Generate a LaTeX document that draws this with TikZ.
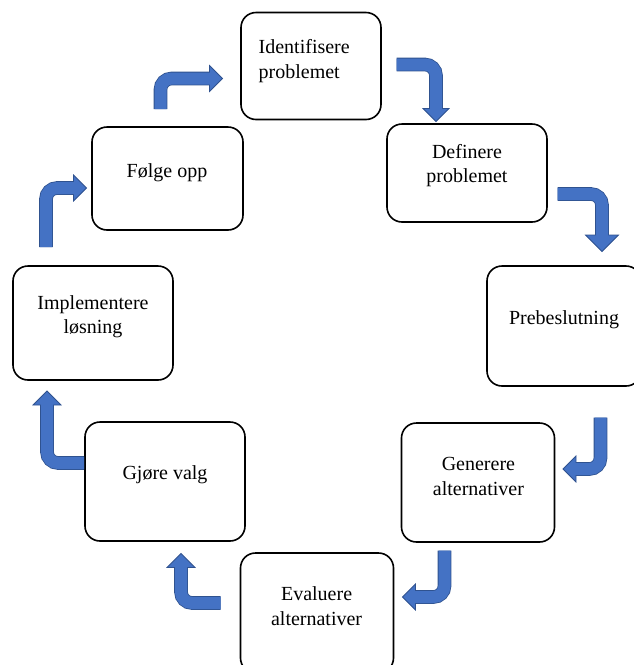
\documentclass[tikz,border=0pt]{standalone}
\usepackage{fontspec}
\setmainfont{Liberation Serif}
\usepackage{xcolor}
\usetikzlibrary{calc}
\definecolor{arrowfill}{HTML}{4472C4}
\definecolor{arrowline}{HTML}{2F528F}
\tikzset{
  stepbox/.style={draw=black, line width=1.6pt, rounded corners=15pt, inner sep=0pt},
  steptext/.style={font=\fontsize{20}{24.5}\selectfont, align=center, inner sep=0pt},
  shaftout/.style={draw=arrowline, line width=13.6pt, rounded corners=11pt},
  shaftin/.style={draw=arrowfill, line width=12pt, rounded corners=11pt},
  headtip/.style={fill=arrowfill, draw=arrowline, line width=0.8pt, line join=miter}
}
\newcommand{\bentarrow}[4][13pt]{%
  \coordinate (hb) at ($(#4)!#1!(#3)$);
  \draw[shaftout] (#2) -- (#3) -- (hb);
  \filldraw[headtip] ($(hb)!#1!90:(#4)$) -- (#4) -- ($(hb)!#1!-90:(#4)$) -- cycle;
  \draw[shaftin] (#2) -- (#3) -- ($(hb)!1.2pt!(#4)$);
}

\begin{document}
\begin{tikzpicture}[x=1pt, y=-1pt]
\useasboundingbox (0,0) rectangle (634,665);

\node[stepbox, minimum width=140, minimum height=107] (ident) at (311,66) {};
\node[stepbox, minimum width=160, minimum height=98] (defin) at (467,173) {};
\node[stepbox, minimum width=154, minimum height=120] (prebes) at (564,326) {};
\node[stepbox, minimum width=153, minimum height=119] (gener) at (478,482.5) {};
\node[stepbox, minimum width=153, minimum height=120] (evalu) at (317,613) {};
\node[stepbox, minimum width=160, minimum height=119] (gjore) at (165,481.5) {};
\node[stepbox, minimum width=160, minimum height=114] (implem) at (93,323) {};
\node[stepbox, minimum width=151, minimum height=103] (foelge) at (167.5,178.5) {};

\node[steptext, align=left, anchor=west] (ident-t) at (258.5,61) {Identifisere\\problemet};
\node[steptext] (defin-t) at (467,165.8) {Definere\\problemet};
\node[steptext] (prebes-t) at (564,320) {Prebeslutning};
\node[steptext] (gener-t) at (478.4,476.5) {Generere\\alternativer};
\node[steptext] (evalu-t) at (316.6,606) {Evaluere\\alternativer};
\node[steptext] (gjore-t) at (165,475) {Gjøre valg};
\node[steptext] (implem-t) at (93,316.6) {Implementere\\løsning};
\node[steptext] (foelge-t) at (167,172.6) {Følge opp};

\coordinate (foelge-out) at (160.5,109);
\coordinate (foelge-bend) at (160.5,78.5);
\coordinate (ident-in) at (222.5,78.5);
\coordinate (ident-out) at (396.5,64.5);
\coordinate (ident-bend) at (436,64.5);
\coordinate (defin-in) at (436,121.5);
\coordinate (defin-out) at (557.5,194);
\coordinate (defin-bend) at (602,194);
\coordinate (prebes-in) at (602,251.5);
\coordinate (prebes-out) at (600.5,417.5);
\coordinate (prebes-bend) at (600.5,469);
\coordinate (gener-in) at (563,469);
\coordinate (gener-out) at (444.5,550.5);
\coordinate (gener-bend) at (444.5,597);
\coordinate (evalu-in) at (402.5,597);
\coordinate (evalu-out) at (220.5,603);
\coordinate (evalu-bend) at (181,603);
\coordinate (gjore-in) at (181,553.5);
\coordinate (gjore-out) at (84,463);
\coordinate (gjore-bend) at (47,463);
\coordinate (implem-in) at (47,391);
\coordinate (implem-out) at (46,247);
\coordinate (implem-bend) at (46,188);
\coordinate (foelge-in) at (86.5,188);

\bentarrow{foelge-out}{foelge-bend}{ident-in}
\bentarrow{ident-out}{ident-bend}{defin-in}
\bentarrow[16.5pt]{defin-out}{defin-bend}{prebes-in}
\bentarrow{prebes-out}{prebes-bend}{gener-in}
\bentarrow{gener-out}{gener-bend}{evalu-in}
\bentarrow[14pt]{evalu-out}{evalu-bend}{gjore-in}
\bentarrow[14pt]{gjore-out}{gjore-bend}{implem-in}
\bentarrow{implem-out}{implem-bend}{foelge-in}
\end{tikzpicture}
\end{document}
